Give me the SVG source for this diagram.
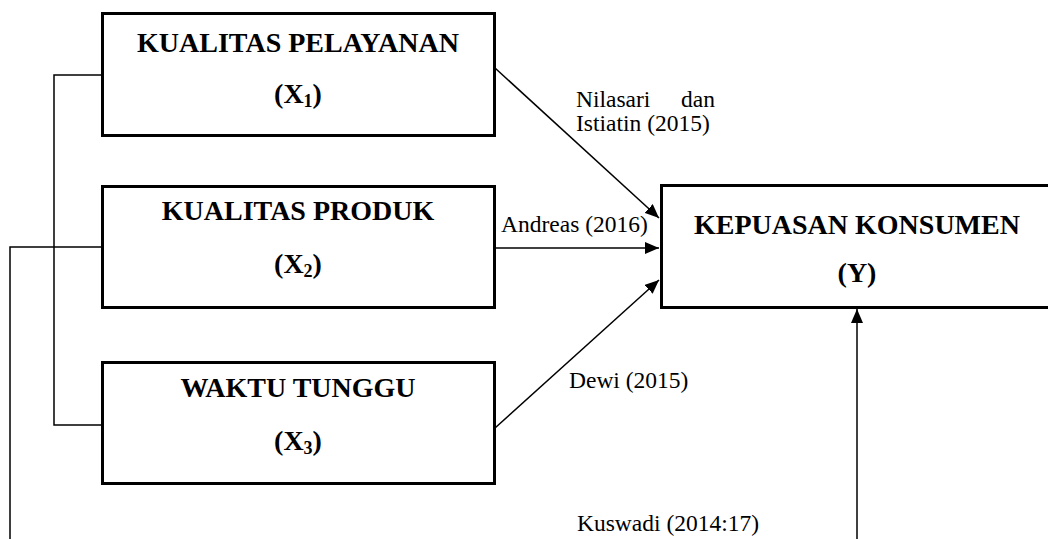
<svg xmlns="http://www.w3.org/2000/svg" width="1048" height="539" viewBox="0 0 1048 539">
<style>
.box{fill:#fff;stroke:#000;stroke-width:3}
.ttl{font-family:"Liberation Serif","Times New Roman",serif;font-weight:bold;font-size:28px;fill:#000;text-anchor:middle}
.sub{font-size:18px}
.lbl{font-family:"Liberation Serif","Times New Roman",serif;font-size:23.5px;fill:#000}
.ln{fill:none;stroke:#000;stroke-width:1.5}
</style>
<defs>
<marker id="ah" viewBox="0 0 14 12" refX="14" refY="6" markerWidth="14" markerHeight="12" markerUnits="userSpaceOnUse" orient="auto">
<path d="M0,0 L14,6 L0,12 Z" fill="#000"/>
</marker>
</defs>
<rect width="1048" height="539" fill="#fff"/>
<g id="connectors">
<polyline class="ln" points="102,75 54,75 54,425 102,425"/>
<polyline class="ln" points="102,247 10,247 10,539"/>
<line class="ln" x1="495" y1="68" x2="659" y2="218" marker-end="url(#ah)"/>
<line class="ln" x1="495" y1="248" x2="659" y2="248" marker-end="url(#ah)"/>
<line class="ln" x1="495" y1="428" x2="659" y2="280" marker-end="url(#ah)"/>
<line class="ln" x1="857" y1="539" x2="857" y2="309" marker-end="url(#ah)"/>
</g>
<g id="x1">
<rect class="box" x="102.5" y="13.5" width="392" height="122"/>
<text class="ttl" x="298" y="52">KUALITAS PELAYANAN</text>
<text class="ttl" x="298" y="103">(X<tspan class="sub" dy="4">1</tspan><tspan dy="-4">)</tspan></text>
</g>
<g id="x2">
<rect class="box" x="102.5" y="186.5" width="392" height="121"/>
<text class="ttl" x="298" y="220">KUALITAS PRODUK</text>
<text class="ttl" x="298" y="273">(X<tspan class="sub" dy="4">2</tspan><tspan dy="-4">)</tspan></text>
</g>
<g id="x3">
<rect class="box" x="102.5" y="362.5" width="392" height="121"/>
<text class="ttl" x="298" y="397">WAKTU TUNGGU</text>
<text class="ttl" x="298" y="450">(X<tspan class="sub" dy="4">3</tspan><tspan dy="-4">)</tspan></text>
</g>
<g id="y">
<rect class="box" x="661.5" y="185.5" width="400" height="122"/>
<text class="ttl" x="857" y="234">KEPUASAN KONSUMEN</text>
<text class="ttl" x="857" y="282">(Y)</text>
</g>
<g id="labels">
<text class="lbl" x="576" y="107">Nilasari</text>
<text class="lbl" x="715" y="107" text-anchor="end">dan</text>
<text class="lbl" x="576" y="131">Istiatin (2015)</text>
<text class="lbl" x="501" y="232">Andreas (2016)</text>
<text class="lbl" x="569" y="388">Dewi (2015)</text>
<text class="lbl" x="577" y="531">Kuswadi (2014:17)</text>
</g>
</svg>
